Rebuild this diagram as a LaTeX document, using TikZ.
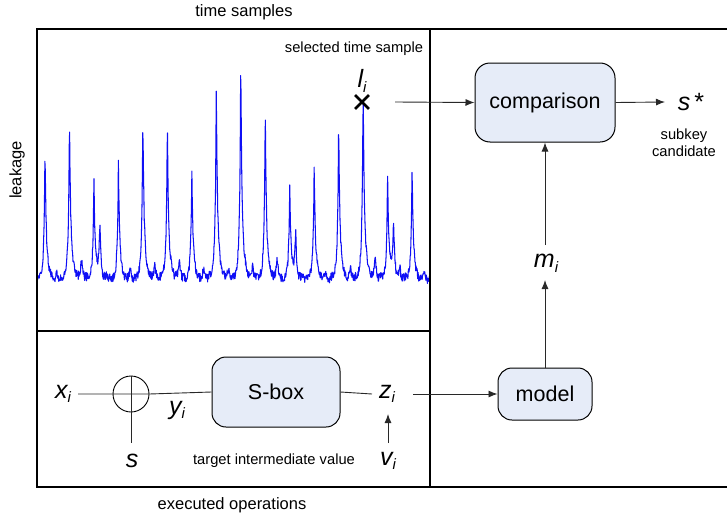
\documentclass[tikz,border=0pt]{standalone}
\usepackage{fontspec}
\setmainfont{Liberation Sans}
\usetikzlibrary{arrows.meta,shapes.misc}
\definecolor{boxfill}{RGB}{230,236,248}
\definecolor{tracecol}{RGB}{15,15,245}
\definecolor{conn}{RGB}{40,40,40}
\newcommand\vsub[2]{#1\raisebox{-0.35ex}{\fontsize{15}{15}\selectfont #2}}
\tikzset{
  frame/.style={draw=black, line width=1.8pt, line cap=rect},
  box/.style={draw=black, line width=1pt, rounded corners=15pt, fill=boxfill, inner sep=0pt, font=\fontsize{21.5}{25}\selectfont},
  var/.style={inner sep=0pt, font=\fontsize{25}{29}\selectfont\itshape},
  small/.style={inner sep=0pt, font=\fontsize{14.7}{17}\selectfont},
  caption/.style={inner sep=0pt, font=\fontsize{16.5}{20}\selectfont},
  conline/.style={draw=conn, line width=0.9pt},
  arr/.style={conline, -{Latex[length=9pt,width=7pt]}},
  tracestyle/.style={draw=tracecol, line width=1.05pt, line join=round}
}
\begin{document}
\begin{tikzpicture}[x=1pt,y=-1pt]
\useasboundingbox (0,0) rectangle (727,519);
% ---- trace data
\pgfmathsetseed{11}
\def\Amain{{0,117,143,88,101,143,137,98,166,192,147,83,99,138,170,92,99,0}}
\def\Asec{{0,0,0,58,0,0,0,0,0,0,0,47,0,0,0,57,0,0}}
\def\Asml{{0,10,22,8,13,15,23,15,12,15,22,8,10,13,22,17,12,0}}
\gdef\trace{}
\foreach \i in {0,...,1048}{%
  \pgfmathsetmacro\xx{37+0.375*\i}%
  \pgfmathtruncatemacro\kf{floor((\xx-45)/24.47)}%
  \pgfmathtruncatemacro\ia{\kf+1}%
  \pgfmathtruncatemacro\ib{\kf+2}%
  \pgfmathsetmacro\da{\xx-45-24.47*\kf}%
  \pgfmathsetmacro\db{24.47-\da}%
  \pgfmathsetmacro\pa{\Amain[\ia]}%
  \pgfmathsetmacro\pb{\Amain[\ib]}%
  \pgfmathsetmacro\ps{\Asec[\ia]}%
  \pgfmathsetmacro\pm{\Asml[\ia]}%
  \pgfmathsetmacro\yy{283+4.6*rand-1.22*\pa*(0.62*exp(-\da/0.9)+0.38*exp(-\da/3.2))-1.22*\pb*(0.62*exp(-\db/0.7)+0.38*exp(-\db/2.2))-\ps*exp(-abs(\da-6)/1.2)-\pm*exp(-abs(\da-12)/1.6)-4*exp(-abs(\da-17)/2.5)}%
  \xdef\trace{\trace (\xx,\yy)}%
}
\begin{scope}
\clip (38,30) rectangle (429,330);
\edef\tmp{\noexpand\draw[tracestyle] plot coordinates {\trace};}\tmp
\end{scope}
% ---- frame
\draw[frame] (727,29) -- (37,29) -- (37,487) -- (727,487);
\draw[frame] (430,29) -- (430,487);
\draw[frame] (37,331) -- (430,331);
% ---- captions
\node[caption] (ts) at (244,12) {time samples};
\node[caption] (eo) at (232,505) {executed operations};
\node[caption, rotate=90] (lk) at (17,170) {leakage};
\node[small] (sel) at (354,49) {selected time sample};
% ---- top part
\node[cross out, draw=black, line width=2.8pt, minimum size=11pt, inner sep=0pt] (mark) at (362,102) {};
\node[var] (li) at (362,81) {\vsub{l}{i}};
\node[box, minimum width=140pt, minimum height=79pt] (cmp) at (545,102.5) {comparison};
\node[var] (sstar) at (691,102) {s\,{\upshape *}};
\node[small, align=center] (subk) at (684,143) {subkey\\candidate};
\coordinate (lstart) at (395,102);
\coordinate (sleft) at (665,102);
\draw[arr] (lstart) -- (cmp.west);
\draw[arr] (cmp.east) -- (sleft);
% ---- right part
\node[box, rounded corners=14pt, minimum width=94pt, minimum height=52pt] (mdl) at (545,394) {model};
\node[var] (mi) at (546,263) {\vsub{m}{i}};
\coordinate (mibot) at (545,280);
\coordinate (mitop) at (545,245);
\draw[arr] (mdl.north) -- (mibot);
\draw[arr] (mitop) -- (cmp.south);
% ---- bottom part
\node[box, rounded corners=14pt, minimum width=128pt, minimum height=70pt] (sbox) at (276,392) {S-box};
\node[draw=black, line width=0.9pt, circle, minimum size=36pt, inner sep=0pt] (xor) at (131,394) {};
\node[var] (xi) at (63,394) {\vsub{x}{i}};
\node[var] (yi) at (177,410) {\vsub{y}{i}};
\node[var] (zi) at (387,394) {\vsub{z}{i}};
\node[var] (vi) at (388,461) {\vsub{v}{i}};
\node[var] (s) at (132,461) {s};
\node[small] (tiv) at (274,461) {target intermediate value};
\coordinate (xistart) at (78,394);
\coordinate (sbot) at (131,443);
\coordinate (zil) at (372,394);
\coordinate (zir) at (413,394);
\coordinate (vitop) at (388,443);
\coordinate (zibot) at (388,414);
\draw[conline] (xistart) -- (xor.west) -- (xor.east) -- (sbox.west);
\draw[conline] (xor.north) -- (sbot);
\draw[conline] (sbox.east) -- (zil);
\draw[arr] (zir) -- (mdl.west);
\draw[arr] (vitop) -- (zibot);
\end{tikzpicture}
\end{document}
